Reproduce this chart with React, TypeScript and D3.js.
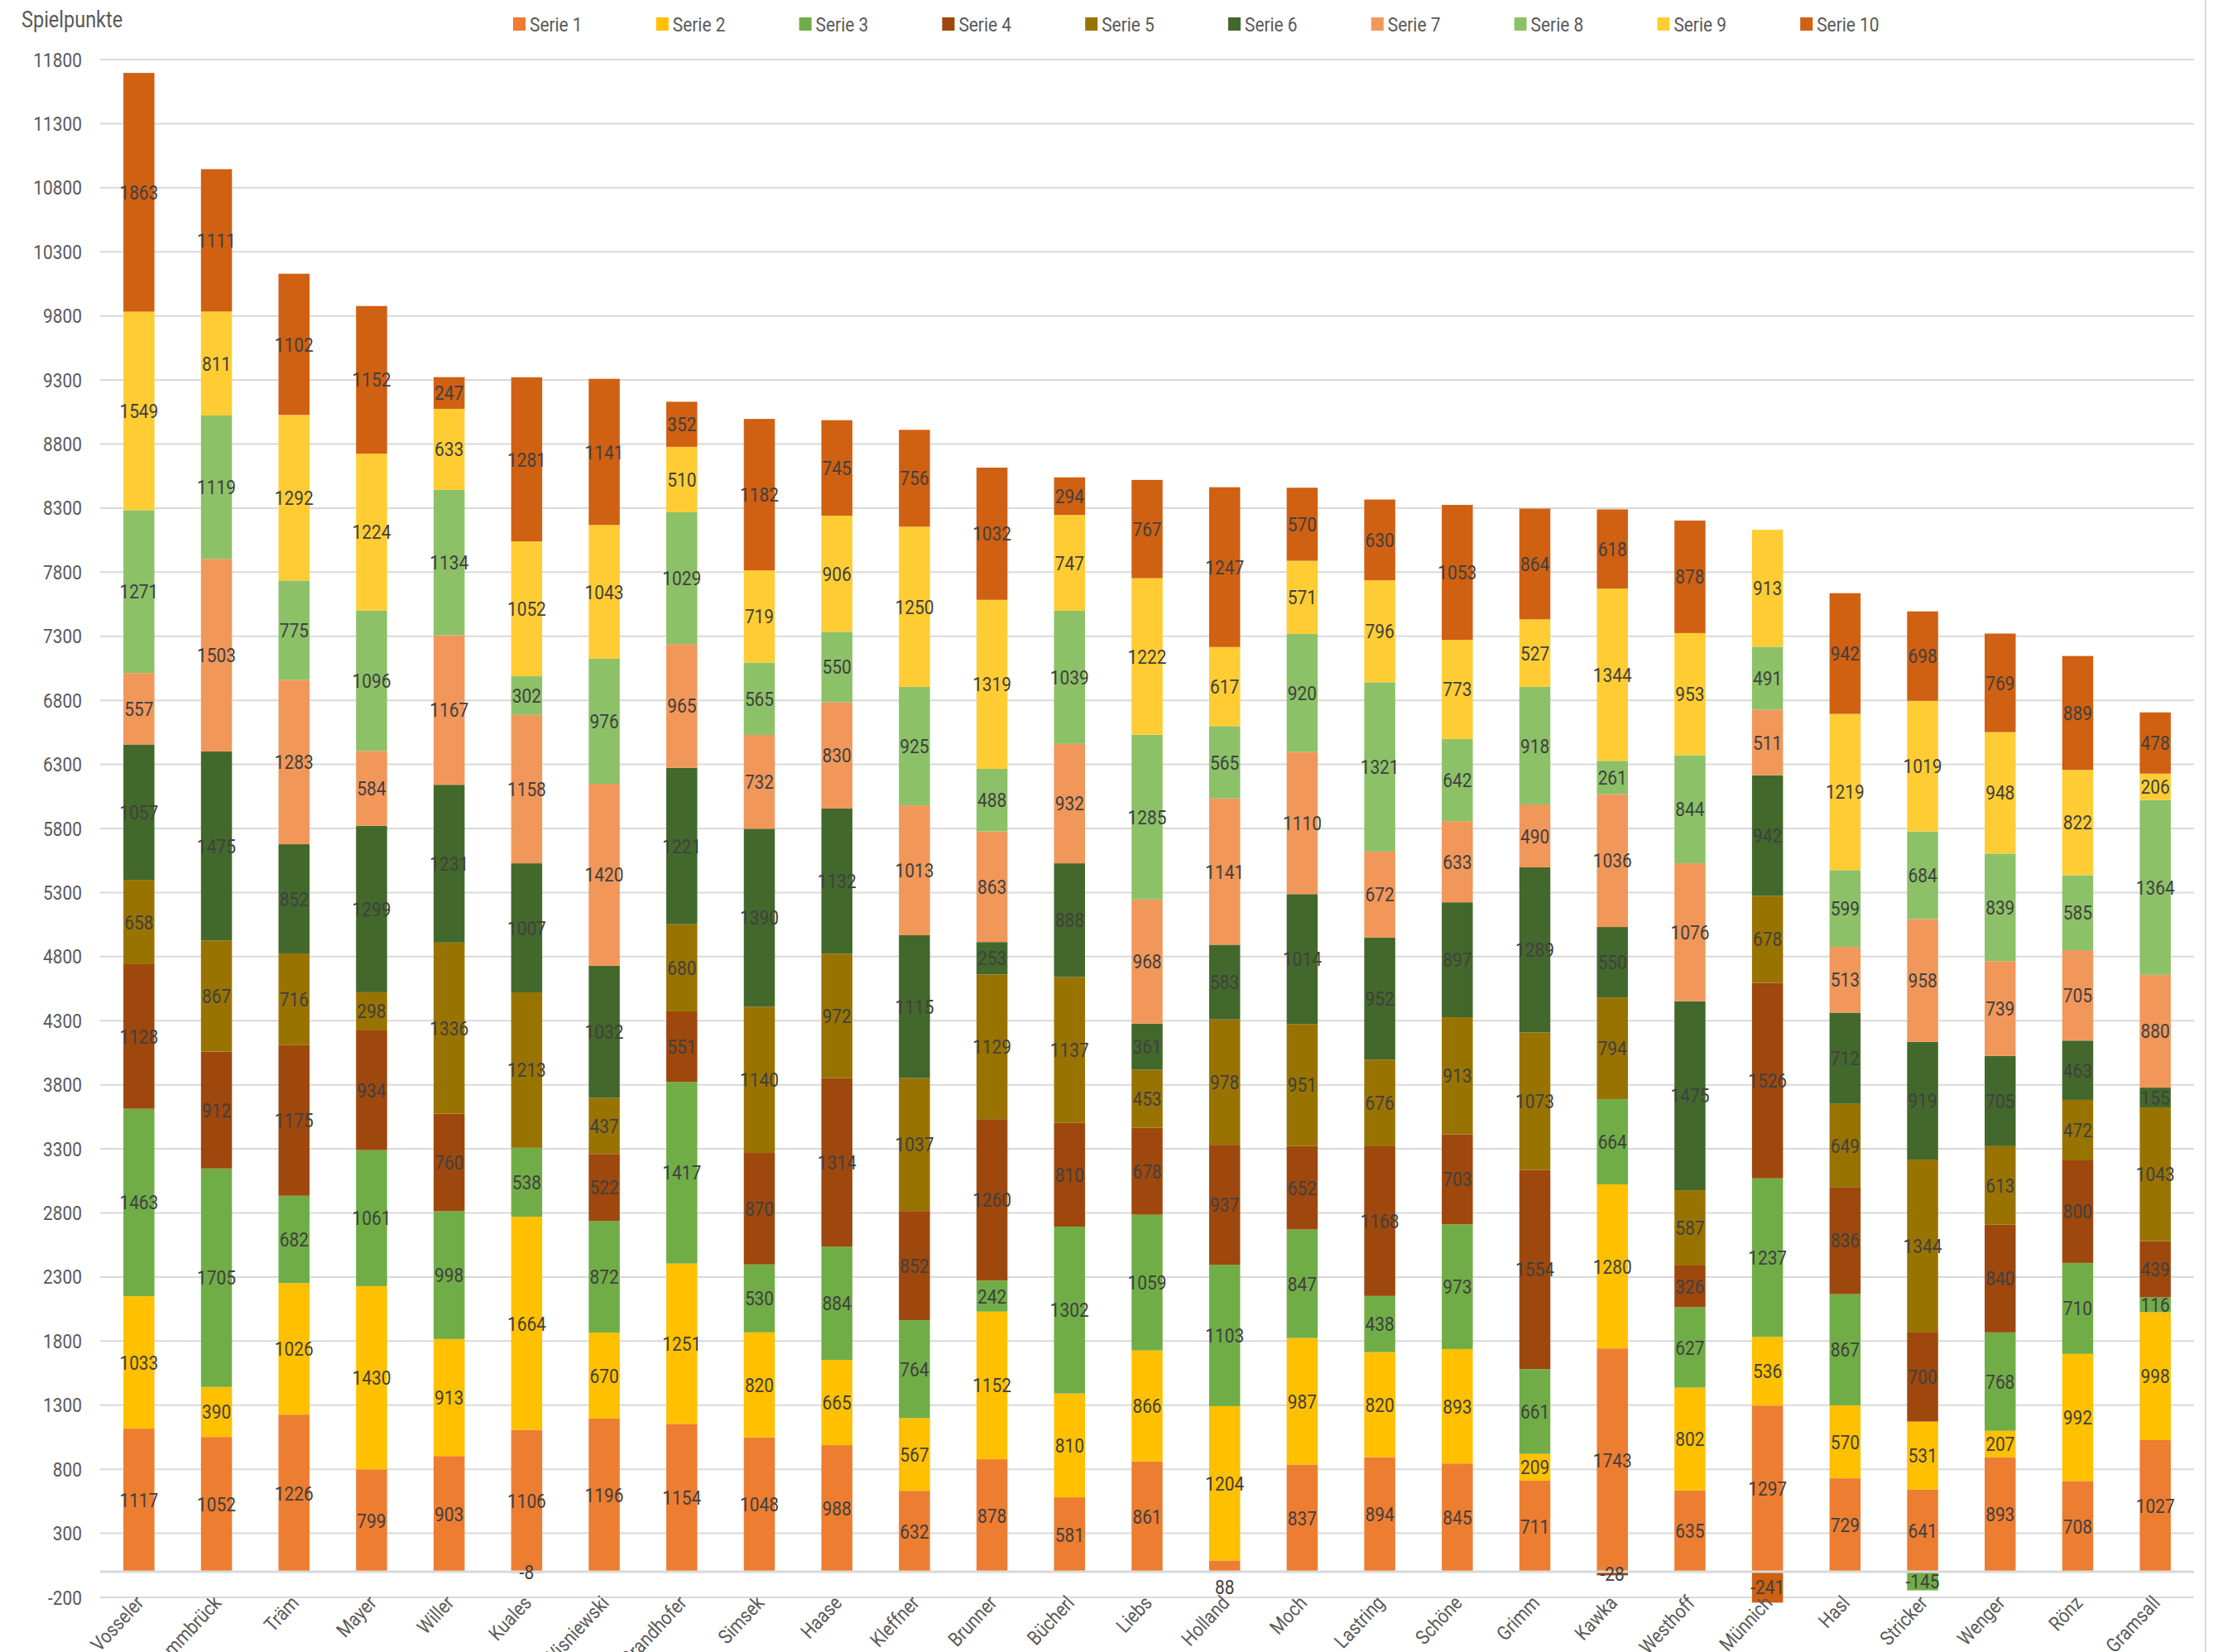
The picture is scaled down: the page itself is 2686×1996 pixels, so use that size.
import { useEffect, useRef } from "react";
import * as d3 from "d3";

const categories = [
  "Vosseler", "Hammbrück", "Träm", "Mayer", "Willer", "Kuales", "Wisniewski",
  "Brandhofer", "Simsek", "Haase", "Kleffner", "Brunner", "Bücherl", "Liebs",
  "Holland", "Moch", "Lastring", "Schöne", "Grimm", "Kawka", "Westhoff",
  "Münnich", "Hasl", "Stricker", "Wenger", "Rönz", "Gramsall",
];

const serie1 = [1117, 1052, 1226, 799, 903, 1106, 1196, 1154, 1048, 988, 632, 878, 581, 861, 88, 837, 894, 845, 711, 1743, 635, 1297, 729, 641, 893, 708, 1027];
const serie2 = [1033, 390, 1026, 1430, 913, 1664, 670, 1251, 820, 665, 567, 1152, 810, 866, 1204, 987, 820, 893, 209, 1280, 802, 536, 570, 531, 207, 992, 998];
const serie3 = [1463, 1705, 682, 1061, 998, 538, 872, 1417, 530, 884, 764, 242, 1302, 1059, 1103, 847, 438, 973, 661, 664, 627, 1237, 867, -145, 768, 710, 116];
const serie4 = [1128, 912, 1175, 934, 760, -8, 522, 551, 870, 1314, 852, 1260, 810, 678, 937, 652, 1168, 703, 1554, -28, 326, 1526, 836, 700, 840, 800, 439];
const serie5 = [658, 867, 716, 298, 1336, 1213, 437, 680, 1140, 972, 1037, 1129, 1137, 453, 978, 951, 676, 913, 1073, 794, 587, 678, 649, 1344, 613, 472, 1043];
const serie6 = [1057, 1475, 852, 1299, 1231, 1007, 1032, 1221, 1390, 1132, 1115, 253, 888, 361, 583, 1014, 952, 897, 1289, 550, 1475, 942, 712, 919, 705, 463, 155];
const serie7 = [557, 1503, 1283, 584, 1167, 1158, 1420, 965, 732, 830, 1013, 863, 932, 968, 1141, 1110, 672, 633, 490, 1036, 1076, 511, 513, 958, 739, 705, 880];
const serie8 = [1271, 1119, 775, 1096, 1134, 302, 976, 1029, 565, 550, 925, 488, 1039, 1285, 565, 920, 1321, 642, 918, 261, 844, 491, 599, 684, 839, 585, 1364];
const serie9 = [1549, 811, 1292, 1224, 633, 1052, 1043, 510, 719, 906, 1250, 1319, 747, 1222, 617, 571, 796, 773, 527, 1344, 953, 913, 1219, 1019, 948, 822, 206];
const serie10 = [1863, 1111, 1102, 1152, 247, 1281, 1141, 352, 1182, 745, 756, 1032, 294, 767, 1247, 570, 630, 1053, 864, 618, 878, -241, 942, 698, 769, 889, 478];

const seriesNames = ["Serie 1", "Serie 2", "Serie 3", "Serie 4", "Serie 5", "Serie 6", "Serie 7", "Serie 8", "Serie 9", "Serie 10"];
const seriesValues = [serie1, serie2, serie3, serie4, serie5, serie6, serie7, serie8, serie9, serie10];
const colors = ["#ED7D31", "#FFC000", "#70AD47", "#9E480E", "#997300", "#43682B", "#F1975A", "#8CC168", "#FFCD33", "#D06012"];

const yTicks = d3.range(-200, 11801, 500);
const yTitle = "Spielpunkte";

const W = 2686;
const H = 1996;
const FONT = "Roboto, 'Noto Sans', sans-serif";
const SQUEEZE = 0.87;

const App = () => {
  const ref = useRef<SVGSVGElement>(null);

  useEffect(() => {
    const svg = d3.select(ref.current);
    svg.selectAll("*").remove();

    const x = d3.scaleBand().domain(categories).range([121, 2651]).paddingInner(0.6).paddingOuter(0.3);
    const y = d3.scaleLinear().domain([-200, 11800]).range([1930, 72]);

    // grid
    svg
      .append("g")
      .selectAll("line")
      .data(yTicks)
      .enter()
      .append("line")
      .attr("x1", 121)
      .attr("x2", 2651)
      .attr("y1", (d) => y(d))
      .attr("y2", (d) => y(d))
      .attr("stroke", "#D9D9D9")
      .attr("stroke-width", 2);

    // y tick labels
    svg
      .append("g")
      .selectAll("text")
      .data(yTicks)
      .enter()
      .append("text")
      .attr("transform", (d) => `translate(99,${y(d)}) scale(${SQUEEZE},1)`)
      .attr("text-anchor", "end")
      .attr("dominant-baseline", "central")
      .attr("font-family", FONT)
      .attr("font-size", 24)
      .attr("fill", "#595959")
      .text((d) => d);

    // stacked bars
    const rows = categories.map((c, i) => {
      const r: any = { cat: c };
      seriesNames.forEach((s, k) => (r[s] = seriesValues[k][i]));
      return r;
    });
    const stacked = d3.stack<any>().keys(seriesNames).offset(d3.stackOffsetDiverging)(rows);

    const layers = svg
      .append("g")
      .selectAll("g")
      .data(stacked)
      .enter()
      .append("g")
      .attr("fill", (_d, i) => colors[i]);

    layers
      .selectAll("rect")
      .data((d) => d)
      .enter()
      .append("rect")
      .attr("x", (d) => x(d.data.cat)!)
      .attr("width", x.bandwidth())
      .attr("y", (d) => y(Math.max(d[0], d[1])))
      .attr("height", (d) => Math.abs(y(d[0]) - y(d[1])));

    // axis line at zero
    svg
      .append("line")
      .attr("x1", 121)
      .attr("x2", 2651)
      .attr("y1", y(0))
      .attr("y2", y(0))
      .attr("stroke", "#D9D9D9")
      .attr("stroke-width", 3);

    // data labels
    const labels = svg.append("g");
    stacked.forEach((layer) => {
      layer.forEach((d) => {
        const v = d.data[layer.key];
        const cx = x(d.data.cat)! + x.bandwidth() / 2;
        let cy = y((d[0] + d[1]) / 2);
        // tiny first segment: label sits under the axis
        if (v > 0 && d[0] === 0 && y(0) - y(v) < 20) cy = y(0) + 18;
        labels
          .append("text")
          .attr("transform", `translate(${cx},${cy}) scale(${SQUEEZE},1)`)
          .attr("text-anchor", "middle")
          .attr("dominant-baseline", "central")
          .attr("font-family", FONT)
          .attr("font-size", 24)
          .attr("fill", "#404040")
          .text(v);
      });
    });

    // category labels
    svg
      .append("g")
      .selectAll("text")
      .data(categories)
      .enter()
      .append("text")
      .attr(
        "transform",
        (d) => `translate(${x(d)! + x.bandwidth() / 2 + 1},${1932}) rotate(-47) scale(${SQUEEZE},1)`
      )
      .attr("text-anchor", "end")
      .attr("dominant-baseline", "central")
      .attr("font-family", FONT)
      .attr("font-size", 24)
      .attr("fill", "#595959")
      .text((d) => d);

    // legend
    const legend = svg
      .append("g")
      .selectAll("g")
      .data(seriesNames)
      .enter()
      .append("g")
      .attr("transform", (_d, i) => `translate(${620 + i * 172.8},29)`);
    legend
      .append("rect")
      .attr("x", 0)
      .attr("y", -8)
      .attr("width", 15)
      .attr("height", 16)
      .attr("fill", (_d, i) => colors[i]);
    legend
      .append("text")
      .attr("transform", `translate(20,0) scale(${SQUEEZE},1)`)
      .attr("dominant-baseline", "central")
      .attr("font-family", FONT)
      .attr("font-size", 24)
      .attr("fill", "#595959")
      .text((d) => d);

    // axis title
    svg
      .append("text")
      .attr("transform", `translate(26,24) scale(${SQUEEZE},1)`)
      .attr("dominant-baseline", "central")
      .attr("font-family", FONT)
      .attr("font-size", 27)
      .attr("fill", "#595959")
      .text(yTitle);

    // chart border on the right
    svg
      .append("line")
      .attr("x1", 2665)
      .attr("x2", 2665)
      .attr("y1", 0)
      .attr("y2", H)
      .attr("stroke", "#D9D9D9")
      .attr("stroke-width", 2);
  }, []);

  return (
    <svg
      ref={ref}
      width={W}
      height={H}
      style={{ position: "absolute", left: 0, top: 0, background: "#fff", display: "block" }}
    />
  );
};

export default App;
